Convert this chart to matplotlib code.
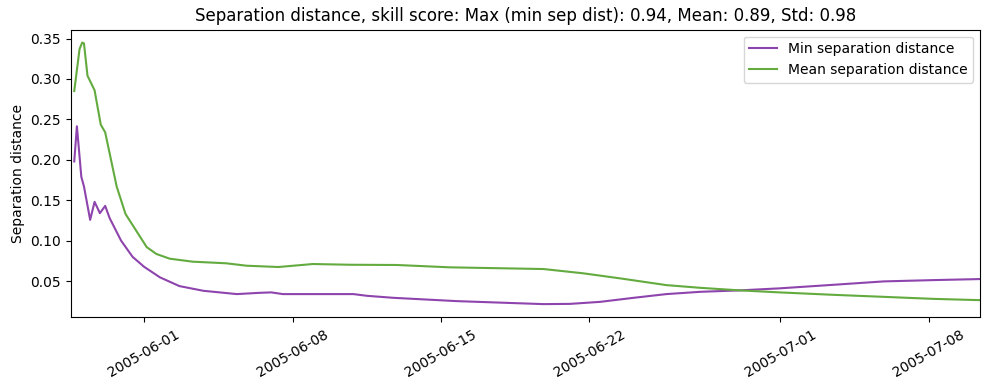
import pandas as pd
import matplotlib
matplotlib.use("Agg")
import matplotlib.pyplot as plt

# min separation distance
min_times = ["2005-05-28 17:00", "2005-05-28 20:00", "2005-05-29 01:00", "2005-05-29 04:00",
             "2005-05-29 11:00", "2005-05-29 16:00", "2005-05-29 22:00", "2005-05-30 04:00",
             "2005-05-30 09:00", "2005-05-30 22:00", "2005-05-31 11:00", "2005-06-01 00:00",
             "2005-06-01 18:00", "2005-06-02 16:00", "2005-06-03 19:00", "2005-06-05 09:00",
             "2005-06-06 11:00", "2005-06-07 00:00", "2005-06-07 13:00", "2005-06-10 21:00",
             "2005-06-11 12:00", "2005-06-12 18:00", "2005-06-15 18:00", "2005-06-19 20:00",
             "2005-06-21 02:00", "2005-06-22 12:00", "2005-06-24 02:00", "2005-06-25 15:00",
             "2005-06-27 05:00", "2005-06-29 02:00", "2005-06-30 23:00", "2005-07-03 12:00",
             "2005-07-05 21:00", "2005-07-08 05:00", "2005-07-10 10:00"]
min_dist = [0.198, 0.2415, 0.179, 0.167,
            0.1257, 0.148, 0.134, 0.143,
            0.128, 0.100, 0.080, 0.0677,
            0.0546, 0.0438, 0.038, 0.0339,
            0.0355, 0.036, 0.0339, 0.0339,
            0.0318, 0.0293, 0.0252, 0.0215,
            0.0218, 0.0243, 0.0293, 0.0339,
            0.0367, 0.0385, 0.041, 0.0454,
            0.0496, 0.0512, 0.0525]

# mean separation distance
mean_times = ["2005-05-28 17:00", "2005-05-28 23:00", "2005-05-29 02:00", "2005-05-29 04:00",
              "2005-05-29 08:00", "2005-05-29 16:00", "2005-05-29 23:00", "2005-05-30 04:00",
              "2005-05-30 17:00", "2005-05-31 03:00", "2005-06-01 03:00", "2005-06-01 14:00",
              "2005-06-02 05:00", "2005-06-03 07:00", "2005-06-04 21:00", "2005-06-05 20:00",
              "2005-06-07 08:00", "2005-06-08 23:00", "2005-06-10 17:00", "2005-06-12 22:00",
              "2005-06-15 10:00", "2005-06-19 20:00", "2005-06-21 17:00", "2005-06-23 11:00",
              "2005-06-25 15:00", "2005-06-27 05:00", "2005-06-29 02:00", "2005-06-30 23:00",
              "2005-07-03 12:00", "2005-07-05 21:00", "2005-07-08 05:00", "2005-07-10 10:00"]
mean_dist = [0.285, 0.337, 0.345, 0.344,
             0.304, 0.286, 0.2435, 0.234,
             0.167, 0.133, 0.092, 0.0835,
             0.0777, 0.074, 0.072, 0.069,
             0.0674, 0.0711, 0.0702, 0.0699,
             0.067, 0.0649, 0.0596, 0.0533,
             0.045, 0.0417, 0.0385, 0.036,
             0.033, 0.0305, 0.028, 0.0264]

title = "Separation distance, skill score: Max (min sep dist): 0.94, Mean: 0.89, Std: 0.98"

fig, ax = plt.subplots(figsize=(9.89, 3.9), dpi=100)
fig.subplots_adjust(left=0.0715, right=0.991, top=0.924, bottom=0.186)

ax.plot(pd.to_datetime(min_times), min_dist, color="#8e44ad", label="Min separation distance")
ax.plot(pd.to_datetime(mean_times), mean_dist, color="#63ab3f", label="Mean separation distance")

ax.set_xlim(pd.Timestamp("2005-05-28 13:00"), pd.Timestamp("2005-07-10 10:00"))
ax.set_ylim(0.005, 0.361)
ax.set_ylabel("Separation distance")
ax.set_title(title)
ax.legend(loc="upper right")
plt.xticks(rotation=30)

plt.savefig("out.png")
